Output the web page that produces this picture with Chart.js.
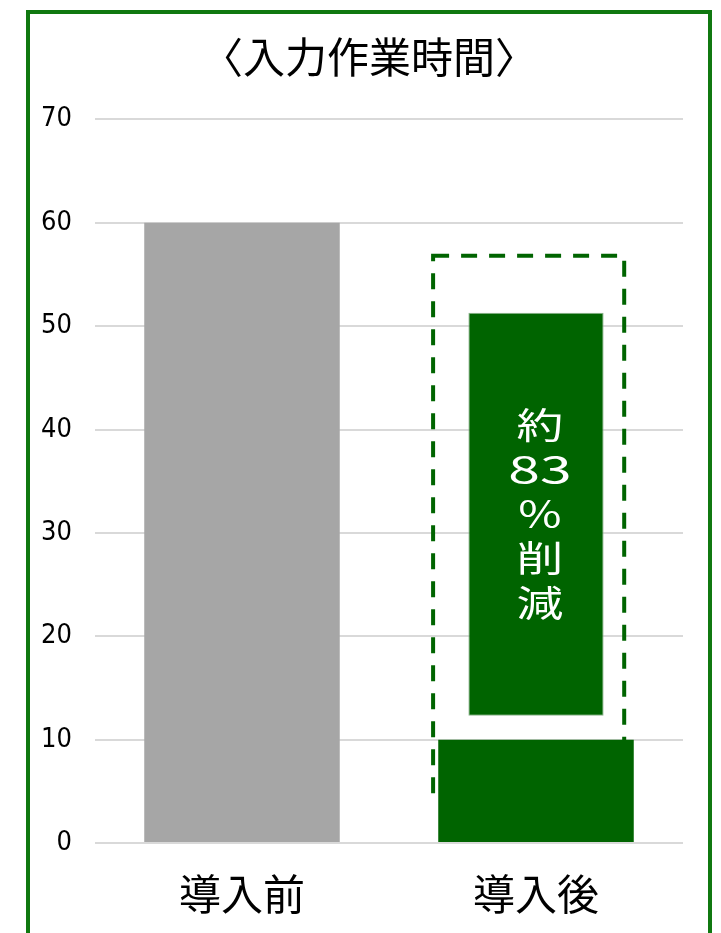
<!DOCTYPE html>
<html lang="ja">
<head>
<meta charset="utf-8">
<title>入力作業時間</title>
<script src="https://cdn.jsdelivr.net/npm/chart.js@4.4.0/dist/chart.umd.min.js"></script>
<style>
    html, body { margin: 0; padding: 0; background: #fff; }
</style>
</head>
<body>
<canvas id="timeChart" width="721" height="933"></canvas>
<script>
// chart data
const categories = ['導入前', '導入後'];
const workHours = [60, 10];
const barColors = ['#a6a6a6', '#006400'];
const yMax = 70;
const yStep = 10;

// "約83％削減" callout box (value range on the 導入後 bar)
const calloutRange = [12.3, 51.3];
const calloutLines = ['約', '83', '％', '削', '減'];

// dashed frame round the callout (values / category positions)
const frameRange = [4.6, 56.8];
const frameSpan = [0.65, 1.3];

const cjkFont = "'Noto Sans CJK JP', 'Noto Sans CJK SC', sans-serif";
const tickFont = "'Liberation Sans Narrow', 'DejaVu Sans Condensed', 'DejaVu Sans', sans-serif";

const decorPlugin = {
    id: 'decor',
    afterLayout(chart) {
        // the title sits centred on the green frame, not on the plot
        if (chart.titleBlock) {
            chart.titleBlock.left = 17;
            chart.titleBlock.right = chart.width;
        }
    },
    beforeDraw(chart) {
        const ctx = chart.ctx;
        ctx.save();
        ctx.fillStyle = '#fff';
        ctx.fillRect(0, 0, chart.width, chart.height);
        // green outer frame
        ctx.strokeStyle = '#107810';
        ctx.lineWidth = 4;
        ctx.strokeRect(28, 12, 682, chart.height + 20);
        ctx.restore();
    },
    beforeDatasetsDraw(chart) {
        const { ctx, scales: { x, y } } = chart;
        const left = x.getPixelForValue(frameSpan[0]);
        const right = x.getPixelForValue(frameSpan[1]);
        const top = y.getPixelForValue(frameRange[1]);
        const bottom = y.getPixelForValue(frameRange[0]);
        ctx.save();
        ctx.strokeStyle = '#006400';
        ctx.lineWidth = 4;
        ctx.setLineDash([16, 12]);
        ctx.strokeRect(left, top, right - left, bottom - top);
        ctx.restore();
    },
    afterDatasetsDraw(chart) {
        const { ctx, scales: { x, y } } = chart;
        const cx = x.getPixelForValue(1) + 4;
        const cy = y.getPixelForValue((calloutRange[0] + calloutRange[1]) / 2);
        const pitch = 44.5;
        ctx.save();
        ctx.fillStyle = '#fff';
        ctx.textAlign = 'center';
        ctx.textBaseline = 'middle';
        calloutLines.forEach((t, i) => {
            const ty = cy + (i - (calloutLines.length - 1) / 2) * pitch;
            const digits = /^[0-9]+$/.test(t);
            ctx.save();
            ctx.translate(cx, ty);
            ctx.scale(digits ? 1.5 : 1.3, 1);
            ctx.font = (digits ? '38px ' : '36px ') + cjkFont;
            ctx.fillText(t, 0, 0);
            ctx.restore();
        });
        ctx.restore();
    }
};

const ctx = document.getElementById('timeChart').getContext('2d');

window.timeChart = new Chart(ctx, {
    type: 'bar',
    data: {
        labels: categories,
        datasets: [
            {
                label: '入力作業時間',
                data: workHours,
                backgroundColor: barColors,
                barPercentage: 0.665,
                categoryPercentage: 1
            },
            {
                label: '削減',
                data: [null, calloutRange],
                backgroundColor: '#006400',
                borderColor: '#8cb48c',
                borderWidth: 1,
                borderSkipped: false,
                barPercentage: 0.46,
                categoryPercentage: 1
            }
        ]
    },
    options: {
        responsive: false,
        animation: false,
        grouped: false,
        layout: {
            padding: { left: 0, right: 38, top: 0, bottom: 0 }
        },
        plugins: {
            legend: { display: false },
            tooltip: { enabled: false },
            title: {
                display: true,
                text: '〈入力作業時間〉',
                color: '#000',
                font: { family: cjkFont, size: 42, weight: 'normal', lineHeight: 1.2 },
                padding: { top: 32, bottom: 37 }
            }
        },
        scales: {
            y: {
                min: 0,
                max: yMax,
                ticks: {
                    stepSize: yStep,
                    padding: 23,
                    color: '#000',
                    font: { family: tickFont, size: 27 }
                },
                grid: {
                    color: '#d9d9d9',
                    lineWidth: 2,
                    drawTicks: false
                },
                border: { display: false },
                afterFit(scale) { scale.width = 95; }
            },
            x: {
                ticks: {
                    padding: 26,
                    color: '#000',
                    font: { family: cjkFont, size: 42, lineHeight: 1.2 }
                },
                grid: { display: false, drawTicks: false },
                border: { display: false },
                afterFit(scale) { scale.height = 90; }
            }
        }
    },
    plugins: [decorPlugin]
});
</script>
</body>
</html>
